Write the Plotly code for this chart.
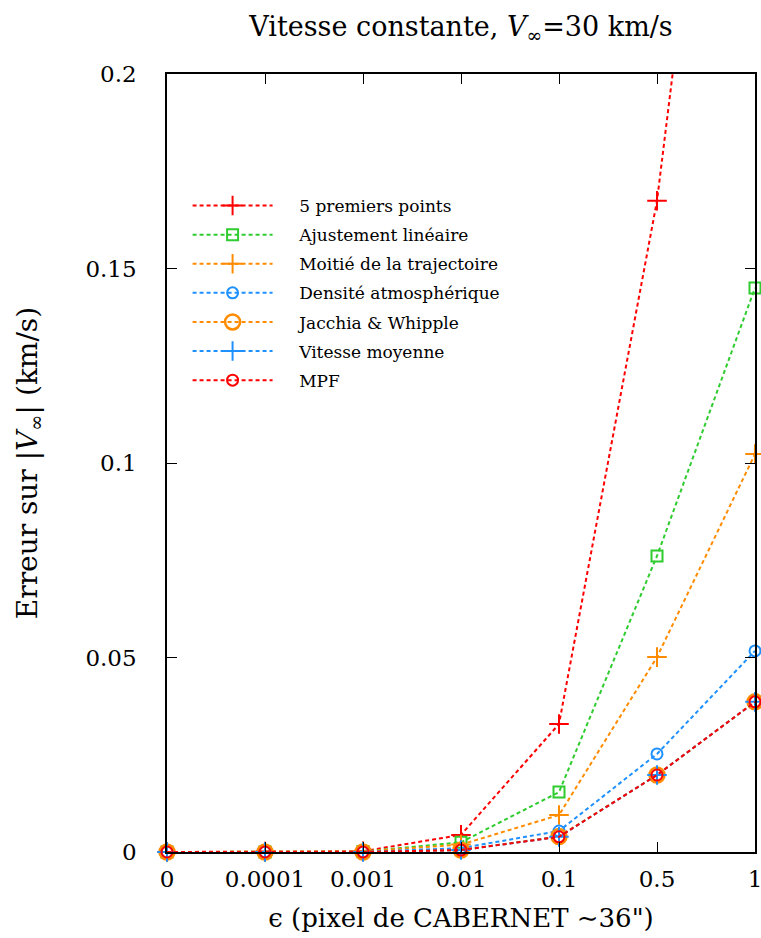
import plotly.graph_objects as go

eps_labels = ["0", "0.0001", "0.001", "0.01", "0.1", "0.5", "1"]

cinq_premiers = [0.0, 0.0001, 0.0002, 0.0044, 0.0329, 0.1674, 0.372]
ajustement = [0.0, 0.0, 0.0001, 0.0025, 0.0154, 0.0761, 0.1450]
moitie = [0.0, 0.0, 0.0001, 0.0019, 0.0095, 0.0501, 0.1023]
densite = [0.0, 0.0, 0.0, 0.0010, 0.0054, 0.0252, 0.0517]
jacchia = [0.0, 0.0, 0.0, 0.0005, 0.0040, 0.0198, 0.0386]
vitesse_moy = [0.0, 0.0, 0.0, 0.0005, 0.0039, 0.0198, 0.0386]
mpf = [0.0, 0.0, 0.0, 0.0005, 0.0039, 0.0198, 0.0386]

y_ticks = [0, 0.05, 0.1, 0.15, 0.2]
y_ticktext = ["0", "0.05", "0.1", "0.15", "0.2"]

RED = "#ff0000"
GREEN = "#2ecc2e"
ORANGE = "#ff8c00"
BLUE = "#1e90ff"
FONT = "DejaVu Serif"
PAD = "\u00a0\u00a0\u00a0\u00a0"

series = [
    ("5 premiers points", cinq_premiers, RED, "cross-thin-open", 14, 2),
    ("Ajustement linéaire", ajustement, GREEN, "square-open", 11, 2),
    ("Moitié de la trajectoire", moitie, ORANGE, "cross-thin-open", 14, 2),
    ("Densité atmosphérique", densite, BLUE, "circle-open", 11, 2),
    ("Jacchia & Whipple", jacchia, ORANGE, "circle-open", 15, 2.5),
    ("Vitesse moyenne", vitesse_moy, BLUE, "cross-thin-open", 14, 2),
    ("MPF", mpf, RED, "circle-open", 11, 2),
]

fig = go.Figure()
for i, (name, vals, col, sym, size, mlw) in enumerate(series):
    fig.add_trace(go.Scatter(
        x=eps_labels, y=vals, name=PAD + name, mode="lines+markers",
        line=dict(color=col, width=2, dash="4px,3px"),
        marker=dict(symbol=sym, size=size, color=col,
                    line=dict(color=col, width=mlw)),
        cliponaxis=False, legendgroup=f"g{i}",
    ))

W, H = 761, 938
L, T, R, B = 167, 74, 6, 86
fig.update_layout(
    width=W, height=H,
    margin=dict(l=L, r=R, t=T, b=B, autoexpand=False),
    paper_bgcolor="white", plot_bgcolor="white",
    font=dict(family=FONT, size=23, color="black"),
    title=dict(text="Vitesse constante, <i>V</i><sub>∞</sub>=30 km/s",
               x=(L + W - R) / 2 / W, xanchor="center", y=1 - 27 / H, yanchor="middle",
               font=dict(family=FONT, size=27)),
    showlegend=True,
    legend=dict(x=0.035, y=(778 - 114) / 778, xanchor="left", yanchor="top",
                bgcolor="rgba(0,0,0,0)", font=dict(family=FONT, size=17),
                itemwidth=80, tracegroupgap=4, traceorder="grouped"),
    xaxis=dict(type="category", range=[0, 6], showgrid=False, zeroline=False,
               automargin=False,
               showline=True, linecolor="black", linewidth=1.5, mirror="ticks",
               ticks="inside", ticklen=10, tickcolor="black",
               tickfont=dict(family=FONT, size=23), ticklabelstandoff=6,
               title=dict(text="ϵ (pixel de CABERNET ∼36\")", standoff=17,
                          font=dict(family=FONT, size=26))),
    yaxis=dict(range=[0, 0.2], tickvals=y_ticks, ticktext=y_ticktext, showgrid=False,
               zeroline=False, showline=True, linecolor="black", linewidth=1.5,
               automargin=False,
               mirror="ticks", ticks="inside", ticklen=10, tickcolor="black",
               tickfont=dict(family=FONT, size=23), ticklabelstandoff=24,
               title=dict(text="Erreur sur |<i>V</i><sub>∞</sub>| (km/s)", standoff=40,
                          font=dict(family=FONT, size=28))),
)

fig.write_html("out.html", config={"displayModeBar": False},
               post_script="document.body.style.margin='0px';")
